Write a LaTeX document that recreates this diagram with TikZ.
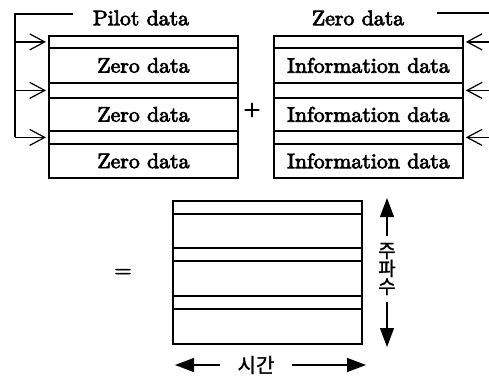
\documentclass[tikz,border=0pt]{standalone}
\usepackage{fontspec}
\setmainfont{lmroman10-regular}[Extension=.otf, FakeStretch=1.04, FakeBold=3.5]
\newfontfamily\kr{Noto Sans CJK KR}[FakeBold=1.5]
\usetikzlibrary{arrows.meta}
\tikzset{
  row/.style={draw, line width=1.8pt, minimum width=189pt, inner sep=0pt, anchor=north west,
              font=\fontsize{21}{22}\selectfont},
  lbl/.style={inner sep=0pt, font=\fontsize{21}{22}\selectfont},
  feed/.style={line width=1.2pt, -{Straight Barb[length=15pt,width=16pt,line width=1.2pt]}, shorten >=2pt},
  brack/.style={line width=1.2pt},
  axis/.style={line width=1.2pt, -{Triangle[length=19pt,width=14pt]}},
}
\begin{document}
\begin{tikzpicture}[x=1pt,y=-1pt]
\useasboundingbox (0,0) rectangle (489,376);

% left block: pilot strips between zero rows
\node[row, minimum height=12pt] (p1) at (48,35) {};
\node[row, minimum height=35pt] (z1) at (48,47) {Zero data};
\node[row, minimum height=15pt] (p2) at (48,82) {};
\node[row, minimum height=33pt] (z2) at (48,97) {Zero data};
\node[row, minimum height=13pt] (p3) at (48,130) {};
\node[row, minimum height=34pt] (z3) at (48,143) {Zero data};

% right block: zero strips between information rows
\node[row, minimum height=12pt] (q1) at (273,35) {};
\node[row, minimum height=35pt] (i1) at (273,47) {Information data};
\node[row, minimum height=15pt] (q2) at (273,82) {};
\node[row, minimum height=33pt] (i2) at (273,97) {Information data};
\node[row, minimum height=13pt] (q3) at (273,130) {};
\node[row, minimum height=34pt] (i3) at (273,143) {Information data};

% combined block
\node[row, minimum height=13pt] (c1) at (172,200) {};
\node[row, minimum height=34pt] (c2) at (172,213) {};
\node[row, minimum height=13pt] (c3) at (172,247) {};
\node[row, minimum height=35pt] (c4) at (172,260) {};
\node[row, minimum height=13pt] (c5) at (172,295) {};
\node[row, minimum height=35pt] (c6) at (172,308) {};

% titles and operators
\node[lbl] (pilot) at (141,18) {Pilot data};
\node[lbl] (zero) at (358,18) {Zero data};
\node[lbl] (plus) at (252,110) {+};
\node[lbl] (eq) at (123,273) {=};

% pilot feed bracket
\coordinate (lt) at (73,14);
\coordinate (lbar) at (15,0);
\draw[brack] (lt) -- (lbar |- lt) -- (lbar |- p3.west);
\draw[feed] (lbar |- p1.west) -- (p1.west);
\draw[feed] (lbar |- p2.west) -- (p2.west);
\draw[feed] (lbar |- p3.west) -- (p3.west);

% zero feed bracket
\coordinate (rt) at (437,13);
\coordinate (rbar) at (489,0);
\draw[brack] (rt) -- (rbar |- rt);
\draw[feed] (rbar |- q1.east) -- (q1.east);
\draw[feed] (rbar |- q2.east) -- (q2.east);
\draw[feed] (rbar |- q3.east) -- (q3.east);

% frequency axis
\node[inner xsep=0pt, inner ysep=7pt, align=center, font=\kr\fontsize{19}{18}\selectfont]
  (freq) at (387,269) {주\\파\\수};
\coordinate (ftop) at (387,198);
\coordinate (fbot) at (387,347);
\draw[axis] (freq.north) -- (ftop);
\draw[axis] (freq.south) -- (fbot);

% time axis
\node[inner xsep=17pt, inner ysep=0pt, font=\kr\fontsize{20}{20}\selectfont]
  (time) at (256,365) {시간};
\coordinate (tleft) at (175,365);
\coordinate (tright) at (366,365);
\draw[axis] (time.west |- tleft) -- (tleft);
\draw[axis] (time.east |- tright) -- (tright);
\end{tikzpicture}
\end{document}
